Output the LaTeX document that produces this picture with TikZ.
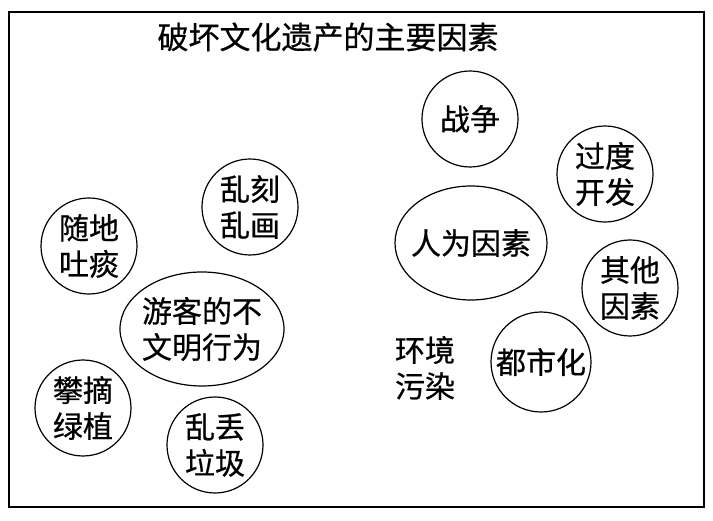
\documentclass[tikz,border=0pt]{standalone}
\usepackage{fontspec}
\setmainfont{Noto Sans CJK SC}[FakeBold=0.6]
\usepackage{tikz}
\usetikzlibrary{shapes.geometric}

\tikzset{
  bubble/.style={draw, circle, line width=1.2pt, minimum size=96pt, inner sep=0pt, align=center, font=\fontsize{30}{36}\selectfont},
  bigbubble/.style={draw, ellipse, line width=1.2pt, inner sep=0pt, inner xsep=-12pt, align=center, font=\fontsize{30}{36}\selectfont},
}

\begin{document}
\begin{tikzpicture}[x=1pt, y=-1pt]
  \useasboundingbox (0,0) rectangle (713,521);
  % Frame and title
  \draw[line width=1.4pt] (9,12) rectangle (704,507);
  \node[font=\fontsize{31}{36}\selectfont] (title) at (328,37) {破坏文化遗产的主要因素};

  % Left group
  \node[bigbubble, minimum width=164pt, minimum height=114pt] (tourist) at (202,329) {游客的不\\文明行为};
  \node[bubble] (carve) at (250,207) {乱刻\\乱画};
  \node[bubble] (spit) at (89,246) {随地\\吐痰};
  \node[bubble] (pick) at (83,408) {攀摘\\绿植};
  \node[bubble] (litter) at (215,445) {乱丢\\垃圾};

  % Right group
  \node[bigbubble, minimum width=152pt, minimum height=114pt] (human) at (471,243) {人为因素};
  \node[bubble] (war) at (470,119) {战争};
  \node[bubble] (overdev) at (605,174) {过度\\开发};
  \node[bubble] (other) at (630,288) {其他\\因素};
  \node[bubble, minimum size=100pt] (urban) at (541,362) {都市化};
  \node[align=center, font=\fontsize{30}{36}\selectfont] (pollute) at (425,368) {环境\\污染};
\end{tikzpicture}
\end{document}
